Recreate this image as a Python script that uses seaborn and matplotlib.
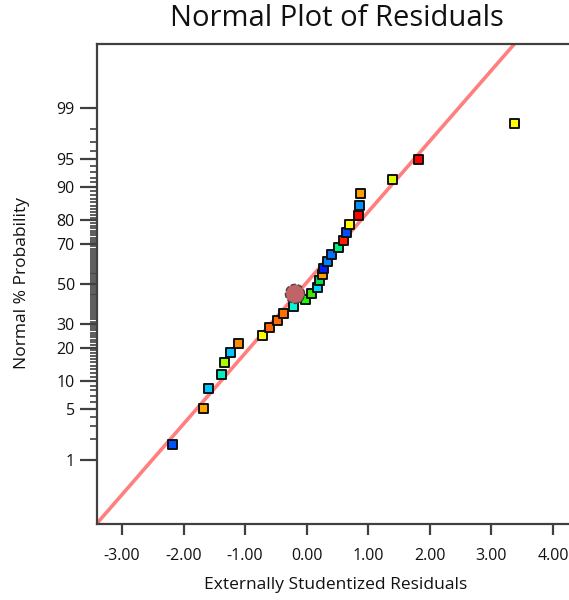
import matplotlib
matplotlib.use("Agg")
import matplotlib.pyplot as plt
import seaborn as sns
import numpy as np
import pandas as pd
from statistics import NormalDist

# ---- data ----
residuals = [-2.18, -1.67, -1.60, -1.38, -1.33, -1.23, -1.10, -0.72, -0.60, -0.48,
             -0.37, -0.22, -0.02, 0.08, 0.18, 0.21, 0.25, 0.28, 0.33, 0.41,
             0.51, 0.59, 0.64, 0.69, 0.84, 0.85, 0.87, 1.40, 1.81, 3.38]
probability = [1.7, 5.0, 8.3, 11.7, 15.0, 18.3, 21.7, 25.0, 28.3, 31.7,
               35.0, 38.3, 41.7, 45.0, 48.3, 51.7, 55.0, 58.3, 61.7, 65.0,
               68.3, 71.7, 75.0, 78.3, 81.7, 85.0, 88.3, 91.7, 95.0, 98.3]
point_colors = ["#0050ff", "#ffa500", "#00c8ff", "#00f0c0", "#a8ff00", "#00c8ff",
                "#ff8c00", "#ffff00", "#ff6400", "#ff6a00", "#ff7000", "#00f8d8",
                "#10ff00", "#40e800", "#00d8ff", "#00e050", "#ffa000", "#0020ff",
                "#0080ff", "#0070ff", "#00f080", "#ff2000", "#0050ff", "#ffff00",
                "#ff0000", "#0090ff", "#ffa000", "#e0ff00", "#ff0000", "#ffff00"]
highlight_residual = [-0.19]
highlight_probability = [44.8]
fit_slope = 0.934
fit_intercept = 0.02
x_ticks = [-3, -2, -1, 0, 1, 2, 3, 4]
y_major = [1, 5, 10, 20, 30, 50, 70, 80, 90, 95, 99]

nd = NormalDist()
def z(p):
    return nd.inv_cdf(p / 100.0)

df = pd.DataFrame({
    "res": residuals,
    "z": [z(p) for p in probability],
    "id": [str(i) for i in range(len(residuals))],
})
palette = {str(i): c for i, c in enumerate(point_colors)}

sns.set_theme(style="white")
plt.rcParams["font.family"] = ["Open Sans", "DejaVu Sans"]
plt.rcParams["axes.unicode_minus"] = False
plt.rcParams["text.color"] = "#111111"
plt.rcParams["xtick.color"] = "#111111"
plt.rcParams["ytick.color"] = "#111111"

W, H = 569, 600
fig = plt.figure(figsize=(W / 100, H / 100), dpi=100)
left, right, top, bottom = 97, 577, 44, 524
ax = fig.add_axes([left / W, 1 - bottom / H, (right - left) / W, (bottom - top) / H])

xlo, xhi = -3.406, (right - 306.7) / 61.57
ax.set_xlim(xlo, xhi)
ax.set_ylim(-3.17, 3.17)

# fit line
fx = np.array([xlo - 0.5, xhi + 0.5])
line_df = pd.DataFrame({"x": fx, "y": fit_slope * fx + fit_intercept})
sns.lineplot(data=line_df, x="x", y="y", ax=ax, color="#ff7f7f", lw=2.6,
             zorder=2, legend=False)

# points
sns.scatterplot(data=df, x="res", y="z", hue="id", palette=palette, ax=ax,
                marker="s", s=42, edgecolor="#111111", linewidth=1.4,
                legend=False, zorder=3)

# highlighted point
hdf = pd.DataFrame({"x": highlight_residual, "y": [z(p) for p in highlight_probability]})
sns.scatterplot(data=hdf, x="x", y="y", ax=ax, marker="o", s=190,
                color="#c06468", edgecolor="#444444", linewidth=1.0,
                linestyle="--", zorder=4, legend=False)

# axes styling
for side in ["left", "bottom", "top"]:
    ax.spines[side].set_color("#404040")
    ax.spines[side].set_linewidth(1.6)
ax.spines["right"].set_visible(False)

ax.set_xticks(x_ticks)
ax.set_xticklabels([f"{v:.2f}" for v in x_ticks])
ax.set_yticks([z(p) for p in y_major])
ax.set_yticklabels([str(p) for p in y_major])
minor = [p for p in range(2, 99) if p not in y_major]
ax.set_yticks([z(p) for p in minor], minor=True)

ax.tick_params(axis="x", which="major", direction="out", length=8, width=1.6,
               color="#404040", labelsize=11.5, pad=9, bottom=True)
ax.tick_params(axis="y", which="major", direction="out", length=12, width=1.6,
               color="#404040", labelsize=11.5, pad=4, left=True)
ax.tick_params(axis="y", which="minor", direction="out", length=5, width=1.2,
               color="#404040", left=True)
ax.set_xlabel("")
ax.set_ylabel("")

fig.text(336 / W, 1 - 585 / H, "Externally Studentized Residuals",
         ha="center", va="center", fontsize=12.5)
fig.text(22 / W, 1 - 283 / H, "Normal % Probability", rotation=90,
         ha="center", va="center", fontsize=12.5)
fig.text(337 / W, 1 - 19 / H, "Normal Plot of Residuals",
         ha="center", va="center", fontsize=21)

fig.savefig("out.png", dpi=100)
